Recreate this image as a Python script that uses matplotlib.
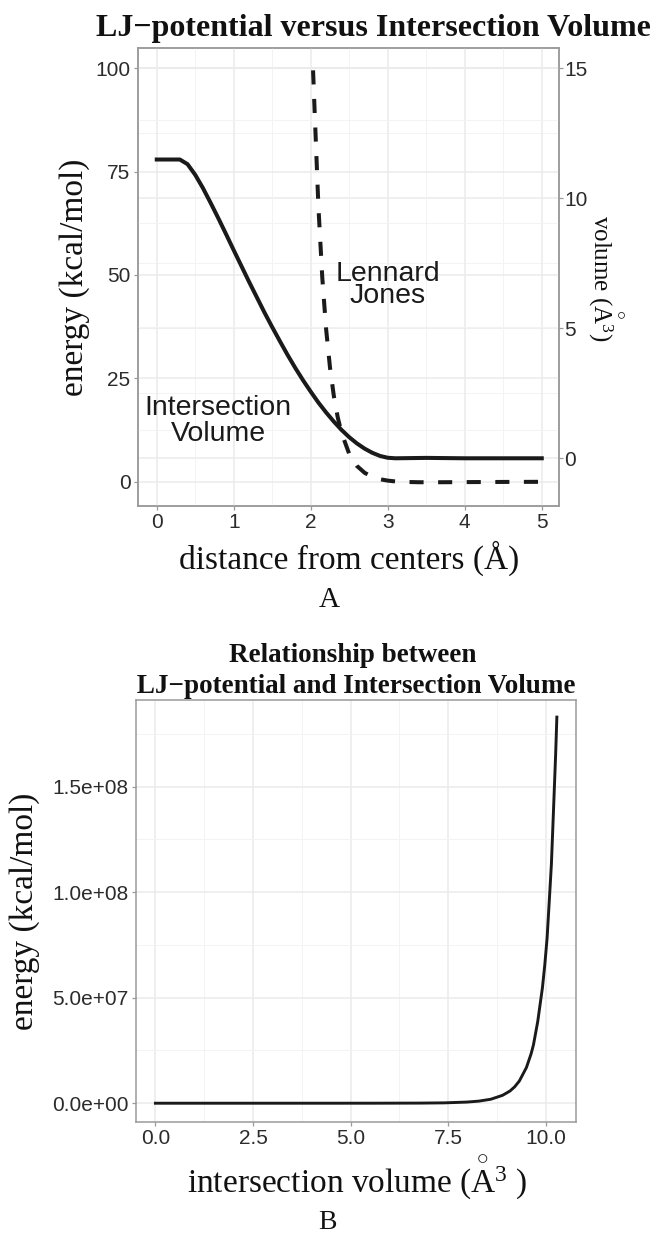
"""LJ-potential versus intersection volume, two stacked panels."""

import matplotlib

matplotlib.use("Agg")
import matplotlib.pyplot as plt
from matplotlib.ticker import FixedLocator, FixedFormatter, MultipleLocator

plt.rcParams["font.family"] = ["Liberation Sans", "DejaVu Sans"]
plt.rcParams["mathtext.fontset"] = "custom"
plt.rcParams["mathtext.rm"] = "Liberation Serif"
plt.rcParams["mathtext.it"] = "Liberation Serif:italic"
plt.rcParams["mathtext.bf"] = "Liberation Serif:bold"

SERIF = ["Liberation Serif", "DejaVu Serif"]
INK = "#1a1a1a"
TICK_TEXT = "#2b2b2b"
FRAME = "#9a9a9a"
GRID_MAJOR = "#ebebeb"
GRID_MINOR = "#f3f3f3"
# ring set above the A, the way the reference draws the unit
ANGSTROM_CUBED = r"{\overset{\circ}{\mathrm{A}}}^{3}"

# panel A: intersection volume of the two spheres
vol_distance = [0.0, 0.1, 0.2, 0.3, 0.4, 0.5, 0.6, 0.7, 0.8, 0.9, 1.0, 1.1,
                1.2, 1.3, 1.4, 1.5, 1.6, 1.7, 1.8, 1.9, 2.0, 2.1, 2.2, 2.3,
                2.4, 2.5, 2.6, 2.7, 2.8, 2.9, 3.0, 3.1, 3.5, 4.0, 4.5, 5.0]
volume = [11.49, 11.49, 11.49, 11.49, 11.31, 10.90, 10.39, 9.82, 9.23, 8.62,
          8.00, 7.39, 6.78, 6.19, 5.60, 5.04, 4.50, 3.97, 3.47, 3.00, 2.56,
          2.14, 1.76, 1.41, 1.09, 0.81, 0.57, 0.37, 0.21, 0.09, 0.02, 0.0,
          0.015, 0.0, 0.0, 0.0]

# panel A: Lennard-Jones energy
lj_distance = [2.03, 2.05, 2.10, 2.15, 2.20, 2.25, 2.30, 2.35, 2.40, 2.50,
               2.60, 2.70, 2.80, 2.90, 3.00, 3.10, 3.20, 3.40, 3.60, 3.80,
               4.00, 4.50, 5.00]
lj_energy = [99.5, 89.8, 66.3, 49.3, 36.8, 27.6, 20.7, 15.6, 11.8, 6.7,
             3.8, 2.15, 1.17, 0.59, 0.26, 0.06, -0.05, -0.13, -0.14, -0.12,
             -0.10, -0.06, -0.03]

# panel B: energy against intersection volume
rel_volume = [0.0, 0.81, 2.56, 4.50, 5.60, 6.78, 7.39, 7.97, 8.28, 8.59,
              8.89, 9.08, 9.20, 9.32, 9.50, 9.62, 9.68, 9.79, 9.91, 9.97,
              10.03, 10.08, 10.14, 10.19, 10.25, 10.28]
rel_energy = [0.0, 6.7, 122.0, 1.9e3, 9.4e3, 6.0e4, 1.7e5, 5.35e5, 9.9e5,
              1.89e6, 3.76e6, 5.79e6, 7.79e6, 1.055e7, 1.69e7, 2.34e7,
              2.76e7, 3.87e7, 5.47e7, 6.54e7, 7.83e7, 9.41e7, 1.133e8,
              1.37e8, 1.66e8, 1.83e8]

a_xticks = [0, 1, 2, 3, 4, 5]
a_energy_ticks = [0, 25, 50, 75, 100]
a_volume_ticks = [0, 5, 10, 15]
b_xticks = [0.0, 2.5, 5.0, 7.5, 10.0]
b_xtick_labels = ["0.0", "2.5", "5.0", "7.5", "10.0"]
b_yticks = [0.0, 5.0e7, 1.0e8, 1.5e8]
b_ytick_labels = ["0.0e+00", "5.0e+07", "1.0e+08", "1.5e+08"]

W, H = 651, 1233


def fx(px):
    return px / W


def fy(py):
    return 1 - py / H


def _style_axes(ax):
    for spine in ax.spines.values():
        spine.set_color(FRAME)
        spine.set_linewidth(1.1)
    ax.tick_params(which="major", length=3, width=0.9, color=FRAME,
                   labelsize=15, labelcolor=TICK_TEXT, pad=2)
    ax.tick_params(which="minor", length=0)


def _grid(ax, axis):
    ax.grid(True, which="major", axis=axis, color=GRID_MAJOR, linewidth=1.1)
    ax.grid(True, which="minor", axis=axis, color=GRID_MINOR, linewidth=0.7)
    ax.set_axisbelow(True)


fig = plt.figure(figsize=(W / 100, H / 100), dpi=100)
fig.patch.set_facecolor("white")

# ---- panel A ----
ax = fig.add_axes([fx(137.5), fy(506), fx(558.7) - fx(137.5), fy(47.7) - fy(506)])
twin = ax.twinx()
# right axis sits behind so its grid never covers the curves
twin.set_zorder(ax.get_zorder() - 1)
twin.patch.set_visible(True)
twin.patch.set_facecolor("white")
ax.patch.set_visible(False)

ax.set_xlim(-0.25, 5.22)
ax.set_ylim(-5.88, 104.98)
twin.set_ylim(-1.835, 15.79)

ax.xaxis.set_major_locator(FixedLocator(a_xticks))
ax.xaxis.set_minor_locator(MultipleLocator(0.5))
ax.yaxis.set_major_locator(FixedLocator(a_energy_ticks))
ax.yaxis.set_minor_locator(MultipleLocator(12.5))
twin.yaxis.set_major_locator(FixedLocator(a_volume_ticks))
twin.yaxis.set_minor_locator(MultipleLocator(2.5))
_style_axes(ax)
_style_axes(twin)
twin.tick_params(axis="y", pad=1)
_grid(twin, "y")
_grid(ax, "both")

ax.plot(lj_distance, lj_energy, color=INK, linewidth=2.9,
        dashes=(3.5, 3.6), solid_capstyle="butt", zorder=3)
ax.plot(vol_distance, volume, color=INK, linewidth=2.9,
        transform=twin.transData, zorder=3)

ax.text(3.0, 47.5, "Lennard\nJones", ha="center", va="center",
        fontsize=20.5, linespacing=0.8, color=INK)
ax.text(0.80, 14.7, "Intersection\nVolume", ha="center", va="center",
        fontsize=20.5, linespacing=1.0, color=INK)

fig.text(fx(373), fy(36), "LJ\u2212potential versus Intersection Volume",
         ha="center", va="baseline", fontsize=23, fontweight="bold",
         family=SERIF, color="#111111")
fig.text(fx(349), fy(569), "distance from centers (Å)",
         ha="center", va="baseline", fontsize=24, family=SERIF,
         color="#111111")
fig.text(fx(75), fy(277), "energy (kcal/mol)", rotation=90, ha="center",
         va="center", fontsize=24, family=SERIF, color="#111111")
fig.text(fx(605), fy(278), rf"volume (${ANGSTROM_CUBED}$)", rotation=270,
         ha="center", va="center", fontsize=18, family=SERIF, color="#111111")
fig.text(fx(329), fy(607), "A", ha="center", va="baseline", fontsize=21,
         family=SERIF, color="#111111")

# ---- panel B ----
bx = fig.add_axes([fx(135.5), fy(1122), fx(576) - fx(135.5), fy(700) - fy(1122)])
bx.set_xlim(-0.51, 10.77)
bx.set_ylim(-8.9e6, 1.911e8)
bx.xaxis.set_major_locator(FixedLocator(b_xticks))
bx.xaxis.set_major_formatter(FixedFormatter(b_xtick_labels))
bx.xaxis.set_minor_locator(MultipleLocator(1.25))
bx.yaxis.set_major_locator(FixedLocator(b_yticks))
bx.yaxis.set_major_formatter(FixedFormatter(b_ytick_labels))
bx.yaxis.set_minor_locator(MultipleLocator(2.5e7))
_style_axes(bx)
_grid(bx, "both")
bx.plot(rel_volume, rel_energy, color=INK, linewidth=2.1, zorder=3)

fig.text(fx(352.5), fy(661.7), "Relationship between", ha="center",
         va="baseline", fontsize=19.5, fontweight="bold", family=SERIF,
         color="#111111")
fig.text(fx(352.5), fy(693.3), " LJ\u2212potential and Intersection Volume",
         ha="center", va="baseline", fontsize=19.5, fontweight="bold",
         family=SERIF, color="#111111")
fig.text(fx(357), fy(1193), rf"intersection volume (${ANGSTROM_CUBED}$ )",
         ha="center", va="baseline", fontsize=24, family=SERIF,
         color="#111111")
fig.text(fx(25), fy(911), "energy (kcal/mol)", rotation=90, ha="center",
         va="center", fontsize=24, family=SERIF, color="#111111")
fig.text(fx(327), fy(1229), "B", ha="center", va="baseline", fontsize=20,
         family=SERIF, color="#111111")

fig.savefig("out.png", dpi=100)
